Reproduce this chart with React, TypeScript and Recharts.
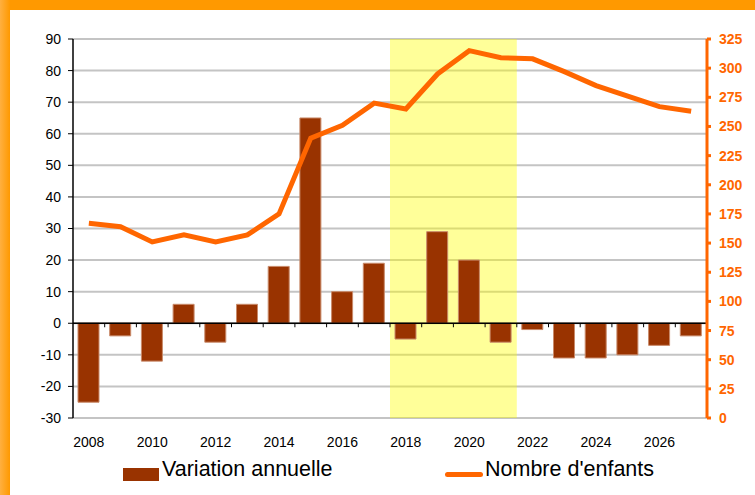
import React from 'react'
import {
  ComposedChart,
  Bar,
  Line,
  XAxis,
  YAxis,
  CartesianGrid,
  ReferenceArea,
  ReferenceLine,
} from 'recharts'

const years = [2008, 2009, 2010, 2011, 2012, 2013, 2014, 2015, 2016, 2017, 2018, 2019, 2020, 2021, 2022, 2023, 2024, 2025, 2026, 2027]
const variation = [-25, -4, -12, 6, -6, 6, 18, 65, 10, 19, -5, 29, 20, -6, -2, -11, -11, -10, -7, -4]
const enfants = [167, 164, 151, 157, 151, 157, 175, 240, 251, 270, 265, 295, 315, 309, 308, 297, 285, 276, 267, 263]

const leftTicks = [-30, -20, -10, 0, 10, 20, 30, 40, 50, 60, 70, 80, 90]
const rightTicks = [0, 25, 50, 75, 100, 125, 150, 175, 200, 225, 250, 275, 300, 325]

const data = years.map((year, i) => ({
  year,
  variation: variation[i],
  enfants: enfants[i],
}))

const FONT = '"Liberation Sans", Arial, sans-serif'

// zero line with small category tick marks underneath
const ZeroAxis = (props: any) => {
  const { x1, x2, y1 } = props
  if (x1 == null || x2 == null || y1 == null) return null
  const n = years.length
  const step = (x2 - x1) / n
  const marks = []
  for (let i = 1; i < n; i++) {
    const x = x1 + step * i
    marks.push(<line key={i} x1={x} x2={x} y1={y1} y2={y1 + 4} stroke="#000" strokeWidth={1} />)
  }
  return (
    <g>
      <line x1={x1} x2={x2} y1={y1} y2={y1} stroke="#000" strokeWidth={1.5} />
      {marks}
    </g>
  )
}

function App() {
  return (
    <div
      style={{
        position: 'absolute',
        left: 0,
        top: 0,
        width: 755,
        height: 495,
        background: '#fff',
        overflow: 'hidden',
        fontFamily: FONT,
      }}
    >
      {/* orange frame */}
      <div style={{ position: 'absolute', left: 0, top: 0, width: 755, height: 10, background: '#FF9900' }} />
      <div
        style={{
          position: 'absolute',
          left: 0,
          top: 0,
          width: 10,
          height: 495,
          background: 'linear-gradient(to right, #FFB040, #FF9900)',
        }}
      />

      <div style={{ position: 'absolute', left: 0, top: 0 }}>
        <ComposedChart width={755} height={495} data={data} margin={{ top: 39, right: 0, left: 0, bottom: 0 }}>
          <CartesianGrid xAxisId="x" yAxisId="left" vertical={false} stroke="#c4c4c4" strokeWidth={2} />
          <XAxis
            dataKey="year"
            xAxisId="x"
            height={77}
            interval={1}
            axisLine={false}
            tickLine={false}
            tickMargin={13}
            tick={{ fill: '#000', fontSize: 14, fontFamily: FONT }}
          />
          <YAxis
            yAxisId="left"
            orientation="left"
            width={73}
            domain={[-30, 90]}
            ticks={leftTicks}
            interval={0}
            axisLine={{ stroke: '#000', strokeWidth: 1.5 }}
            tickLine={{ stroke: '#000' }}
            tickSize={5}
            tickMargin={7}
            tick={{ fill: '#000', fontSize: 14, fontFamily: FONT }}
          />
          <YAxis
            yAxisId="right"
            orientation="right"
            width={48}
            domain={[0, 325]}
            ticks={rightTicks}
            interval={0}
            axisLine={{ stroke: '#FF6600', strokeWidth: 3 }}
            tickLine={{ stroke: '#FF6600', strokeWidth: 3 }}
            tickSize={4}
            tickMargin={8}
            tick={{ fill: '#FF6600', fontSize: 14, fontWeight: 'bold', fontFamily: FONT }}
          />
          <ReferenceArea
            xAxisId="x"
            yAxisId="left"
            x1={2018}
            x2={2021}
            y1={-30}
            y2={90}
            fill="#FFFF00"
            fillOpacity={0.4}
            stroke="none"
          />
          <Bar
            xAxisId="x"
            yAxisId="left"
            dataKey="variation"
            fill="#993300"
            stroke="#C98A6A"
            strokeWidth={1}
            barSize={21}
            isAnimationActive={false}
          />
          <ReferenceLine xAxisId="x" yAxisId="left" y={0} shape={ZeroAxis} />
          <Line
            xAxisId="x"
            yAxisId="right"
            type="linear"
            dataKey="enfants"
            stroke="#FF6600"
            strokeWidth={5}
            dot={false}
            activeDot={false}
            isAnimationActive={false}
          />
        </ComposedChart>
      </div>

      {/* legend */}
      <div style={{ position: 'absolute', left: 123, top: 468, width: 36, height: 13, background: '#993300' }} />
      <div style={{ position: 'absolute', left: 162, top: 457, fontSize: 21.5, color: '#000', lineHeight: '24px' }}>
        Variation annuelle
      </div>
      <div
        style={{
          position: 'absolute',
          left: 445,
          top: 472,
          width: 38,
          height: 5,
          borderRadius: 3,
          background: '#FF6600',
        }}
      />
      <div style={{ position: 'absolute', left: 485, top: 457, fontSize: 21.5, color: '#000', lineHeight: '24px' }}>
        Nombre d'enfants
      </div>
    </div>
  )
}

export default App
